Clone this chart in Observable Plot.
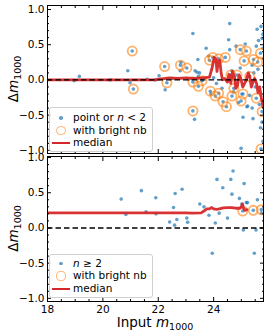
<!DOCTYPE html>
<html><head><meta charset="utf-8">
<script src="https://cdn.jsdelivr.net/npm/d3@7"></script>
<script src="https://cdn.jsdelivr.net/npm/@observablehq/plot@0.6"></script>
<style>
body{margin:0;background:#fff;}
#wrap{position:relative;width:270px;height:335px;font-family:"DejaVu Sans",sans-serif;overflow:hidden;}
#wrap svg{position:absolute;left:0;}
.legend{position:absolute;box-sizing:border-box;border:1px solid #d0d0d0;border-radius:3px;background:rgba(255,255,255,0.8);}
.lg-text{position:absolute;font-size:10.5px;line-height:13px;white-space:nowrap;color:#000;}
.lg-mk{position:absolute;box-sizing:border-box;}
</style></head><body><div id="wrap"></div>
<script>
// ---------- data ----------
const xMajor = [18, 20, 22, 24];
const xMinor = [18.5, 19, 19.5, 20.5, 21, 21.5, 22.5, 23, 23.5, 24.5, 25, 25.5];
const yMajor = [-1, -0.5, 0, 0.5, 1];
const yMinor = [-0.9, -0.8, -0.7, -0.6, -0.4, -0.3, -0.2, -0.1, 0.1, 0.2, 0.3, 0.4, 0.6, 0.7, 0.8, 0.9];

// top panel: point or n<2
const topPoints = [[18.96,-0.01],[19.15,0.05],[20.26,0.0],[20.9,0.13],[20.98,-0.04],[21.6,0.01],[21.9,0.0],[22.03,0.06],[22.25,-0.14],[22.5,0.02],[22.79,0.13],[22.82,0.25],[23.1,0.01],[23.25,0.66],[23.31,-0.56],[23.33,0.13],[23.4,0.11],[23.43,0.29],[23.45,0.05],[23.49,0.10],[23.6,0.0],[23.73,0.45],[23.82,0.34],[23.9,-0.2],[24.0,0.03],[24.1,-0.05],[24.3,-0.12],[24.54,0.57],[24.58,0.80],[24.58,0.43],[24.66,0.13],[24.72,-0.17],[24.81,0.48],[24.9,-0.32],[24.96,0.17],[24.99,-0.97],[25.02,-0.2],[25.06,-0.53],[25.14,0.51],[25.2,-0.38],[25.23,-0.37],[25.3,-0.22],[25.39,0.21],[25.39,-0.40],[25.42,-0.55],[25.45,0.1],[25.5,-0.1],[25.54,0.48],[25.57,0.72],[25.6,0.15],[25.62,0.56],[25.65,-0.35],[25.69,-0.68],[25.71,0.76],[25.75,0.59],[25.75,-0.6],[25.78,0.65],[25.78,0.45],[25.78,-0.87]];
const topBright = [[21.06,0.41],[21.1,-0.13],[22.23,0.19],[22.31,-0.04],[22.8,0.21],[23.03,0.17],[23.25,-0.03],[23.25,-0.44],[23.45,-0.09],[23.58,-0.01],[23.85,0.28],[23.88,-0.16],[23.97,0.32],[24.06,-0.23],[24.18,0.30],[24.18,-0.19],[24.34,-0.31],[24.42,0.32],[24.46,-0.38],[24.62,0.07],[24.66,-0.23],[24.73,-0.12],[24.84,0.07],[24.96,0.43],[24.99,-0.30],[25.06,-0.20],[25.1,0.27],[25.18,0.41],[25.3,0.05],[25.44,0.29],[25.54,-0.26],[25.59,0.255],[25.69,0.38],[25.75,-0.45],[25.71,-0.98]];
const topMedian = [[18.0,0.0],[21.9,0.0],[22.0,0.01],[22.2,0.02],[22.4,0.03],[22.7,0.02],[23.0,0.03],[23.3,0.02],[23.6,0.03],[23.85,0.04],[23.95,0.18],[24.02,0.32],[24.08,0.30],[24.12,0.12],[24.17,0.27],[24.22,0.28],[24.27,0.1],[24.32,0.0],[24.4,0.02],[24.5,-0.03],[24.55,0.08],[24.62,-0.05],[24.68,0.12],[24.75,0.05],[24.8,-0.12],[24.86,-0.08],[24.92,0.07],[24.98,0.02],[25.05,-0.1],[25.12,-0.05],[25.18,0.0],[25.25,0.1],[25.3,0.05],[25.36,-0.1],[25.42,-0.03],[25.48,0.02],[25.55,-0.05],[25.6,-0.18],[25.66,-0.1],[25.72,-0.25],[25.78,-0.38]];

// bottom panel: n >= 2
const botPoints = [[20.66,0.41],[20.83,0.19],[21.39,0.53],[21.56,0.23],[21.91,0.43],[21.92,0.20],[22.41,0.085],[22.55,0.29],[22.59,0.04],[22.61,0.49],[22.67,0.12],[22.86,0.55],[23.03,0.14],[23.06,0.08],[23.5,0.34],[23.65,0.30],[23.83,0.18],[23.95,-0.36],[24.06,0.07],[24.12,0.69],[24.2,0.21],[24.33,0.57],[24.5,0.14],[24.62,0.69],[24.66,0.48],[24.7,0.81],[24.93,0.42],[25.02,0.34],[25.07,-0.03],[25.1,0.63],[25.18,0.36],[25.22,0.36],[25.47,-0.36],[25.53,-0.03],[25.58,0.40],[25.72,0.21]];
const botBright = [[25.05,0.24],[25.43,0.25],[25.72,0.26]];
const botMedian = [[18.0,0.215],[23.0,0.215],[23.2,0.21],[23.55,0.215],[23.65,0.24],[23.75,0.27],[23.85,0.27],[23.93,0.29],[24.0,0.27],[24.1,0.265],[24.2,0.27],[24.35,0.285],[24.5,0.29],[24.65,0.29],[24.8,0.28],[24.95,0.28],[25.0,0.30],[25.04,0.34],[25.08,0.28],[25.12,0.25],[25.2,0.26]];

// ---------- drawing ----------
const wrap = document.getElementById("wrap");
const X = d => d[0], Y = d => d[1];
const blue = "#1f77b4", orange = "#ff7f0e", red = "#d62728";

function panel(o) {
  const marks = [
    Plot.dot(o.points.concat(o.bright), {x: X, y: Y, r: 1.8, fill: blue, fillOpacity: 0.7, clip: true}),
    Plot.dot(o.bright, {x: X, y: Y, r: 4.6, stroke: orange, strokeOpacity: 0.6, strokeWidth: 1.8, fill: "none", clip: true}),
    Plot.line(o.median, {x: X, y: Y, stroke: red, strokeWidth: 2.8, strokeOpacity: 0.95, clip: true}),
    Plot.ruleY([0], {stroke: "#000", strokeWidth: 1.4, strokeDasharray: "5.5,3"}),
    Plot.frame({stroke: "#000", strokeWidth: 1}),
    Plot.axisY(yMajor, {anchor: "left", tickSize: 4, dx: 4, fill: "none", label: null}),
    Plot.axisY(yMajor, {anchor: "right", tickSize: 4, dx: -4, fill: "none", label: null}),
    Plot.axisY(yMinor, {anchor: "left", tickSize: 2, dx: 2, fill: "none", label: null}),
    Plot.axisY(yMinor, {anchor: "right", tickSize: 2, dx: -2, fill: "none", label: null}),
    Plot.axisY(yMajor, {anchor: "left", tickSize: 0, tickPadding: 3, tickFormat: d3.format(".1f"), label: null}),
    Plot.axisX(xMajor, {anchor: "bottom", tickSize: 4, dy: -4, fill: "none", label: null}),
    Plot.axisX(xMajor, {anchor: "top", tickSize: 4, dy: 4, fill: "none", label: null}),
    Plot.axisX(xMinor, {anchor: "bottom", tickSize: 2, dy: -2, fill: "none", label: null}),
    Plot.axisX(xMinor, {anchor: "top", tickSize: 2, dy: 2, fill: "none", label: null})
  ];
  if (o.xLabels) marks.push(Plot.axisX(xMajor, {anchor: "bottom", tickSize: 0, tickPadding: 4, label: null}));
  const svg = Plot.plot({
    width: 270, height: o.height,
    marginLeft: 47, marginRight: 7, marginTop: o.mt, marginBottom: o.mb,
    style: {fontFamily: "DejaVu Sans, sans-serif", fontSize: "10.5px", overflow: "visible", background: "transparent", color: "#000"},
    x: {domain: [18, 25.8]},
    y: {domain: o.yDomain},
    marks
  });
  svg.style.top = o.top + "px";
  const s = d3.select(svg);
  const cy = o.mt + (o.height - o.mt - o.mb) / 2;
  const t = s.append("text").attr("transform", `translate(18,${cy}) rotate(-90)`)
    .attr("text-anchor", "middle").attr("font-size", 13.5).attr("fill", "#000");
  t.append("tspan").text("Δ");
  t.append("tspan").attr("font-style", "italic").text("m");
  t.append("tspan").attr("font-size", 9.5).attr("dy", 3).text("1000");
  if (o.xLabels) {
    const u = s.append("text").attr("x", 155).attr("y", o.height - 8)
      .attr("text-anchor", "middle").attr("font-size", 13.5).attr("fill", "#000");
    u.append("tspan").text("Input ");
    u.append("tspan").attr("font-style", "italic").text("m");
    u.append("tspan").attr("font-size", 9.5).attr("dy", 3).text("1000");
  }
  wrap.appendChild(svg);
}

function legend(top, height, rows, labels) {
  const box = document.createElement("div");
  box.className = "legend";
  Object.assign(box.style, {left: "49px", top: top + "px", width: "104px", height: height + "px"});
  wrap.appendChild(box);
  rows.forEach((ry, i) => {
    const mk = document.createElement("span");
    mk.className = "lg-mk";
    if (i === 0) Object.assign(mk.style, {left: "59.2px", top: (ry - 1.8) + "px", width: "3.6px", height: "3.6px", borderRadius: "50%", background: "rgba(31,119,180,0.7)"});
    if (i === 1) Object.assign(mk.style, {left: "56.4px", top: (ry - 4.6) + "px", width: "9.2px", height: "9.2px", borderRadius: "50%", border: "1.8px solid rgba(255,127,14,0.6)"});
    if (i === 2) Object.assign(mk.style, {left: "52px", top: (ry - 1.4) + "px", width: "18px", height: "2.8px", background: red});
    wrap.appendChild(mk);
    const tx = document.createElement("span");
    tx.className = "lg-text";
    tx.style.left = "73px";
    tx.style.top = (ry - 7) + "px";
    tx.innerHTML = labels[i];
    wrap.appendChild(tx);
  });
}

panel({points: topPoints, bright: topBright, median: topMedian, yDomain: [-1.045, 1.057], height: 155, mt: 5, mb: 2, top: 0, xLabels: false});
panel({points: botPoints, bright: botBright, median: botMedian, yDomain: [-1.045, 1.015], height: 180, mt: 1, mb: 34, top: 155, xLabels: true});
legend(107, 45, [118, 130.5, 143], ["point or <i>n</i> &lt; 2", "with bright nb", "median"]);
legend(254, 44, [263.5, 276, 289], ["<i>n</i> ≥ 2", "with bright nb", "median"]);
</script></body></html>
